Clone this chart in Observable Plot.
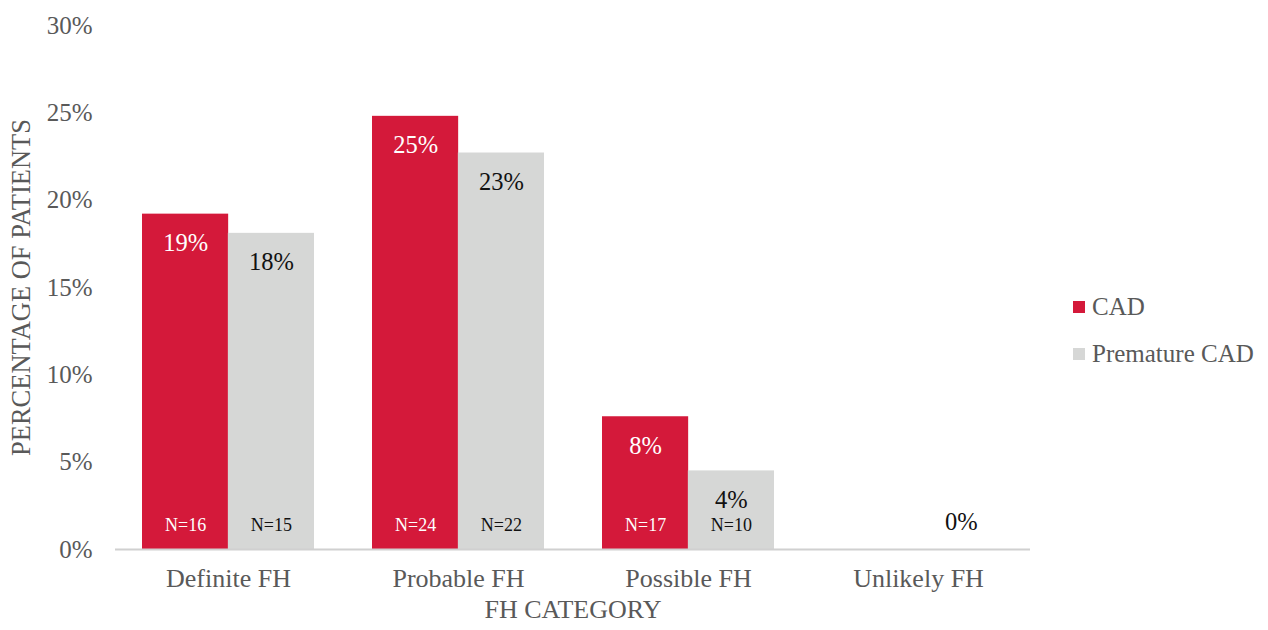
<!DOCTYPE html>
<html><head><meta charset="utf-8">
<script src="https://cdn.jsdelivr.net/npm/d3@7"></script>
<script src="https://cdn.jsdelivr.net/npm/@observablehq/plot@0.6"></script>
<style>
body{margin:0;background:#fff;}
#wrap{position:relative;width:1268px;height:630px;font-family:"Liberation Serif","Times New Roman",serif;}
.legend{position:absolute;left:1073px;color:#595959;font-size:25px;line-height:25px;display:flex;align-items:center;white-space:nowrap;}
.legend .sw{width:12px;height:12px;margin-right:7px;display:inline-block;}
svg g[aria-label="x-axis tick label"] text{font-size:26px;}
svg g[aria-label="y-axis tick label"] text{font-size:25px;}
</style></head><body><div id="wrap"></div>
<script>
const categories = ["Definite FH", "Probable FH", "Possible FH", "Unlikely FH"];
const seriesNames = ["CAD", "Premature CAD"];
const cadValues = [19.2, 24.8, 7.6, 0];
const prematureValues = [18.1, 22.7, 4.5, 0];
const cadLabels = ["19%", "25%", "8%", ""];
const prematureLabels = ["18%", "23%", "4%", "0%"];
const cadN = ["N=16", "N=24", "N=17", ""];
const prematureN = ["N=15", "N=22", "N=10", ""];
const yTicks = [0, 5, 10, 15, 20, 25, 30];
const colors = ["#D4193A", "#D6D7D6"];
const labelColors = ["#FFFFFF", "#111111"];

const W = 1268, H = 630, mL = 115, mR = 238, mT = 25, mB = 81;
const pI = 0.254, pO = 0.115;
const step = (W - mL - mR) / (categories.length - pI + 2 * pO);
const half = step * (1 - pI) / 2;

const cadRows = categories.map((c, i) => ({category: c, value: cadValues[i], label: cadLabels[i], n: cadN[i]}));
const preRows = categories.map((c, i) => ({category: c, value: prematureValues[i], label: prematureLabels[i], n: prematureN[i]}));
const preInside = preRows.filter(d => d.value > 0);
const preZero = preRows.filter(d => d.value === 0);

const font = '"Liberation Serif","Times New Roman",serif';

const chart = Plot.plot({
  width: W, height: H,
  marginLeft: mL, marginRight: mR, marginTop: mT, marginBottom: mB,
  style: {fontFamily: font, fontSize: "24px", color: "#595959", background: "#fff"},
  x: {domain: categories, paddingInner: pI, paddingOuter: pO, tickSize: 0, tickPadding: 19, label: null},
  y: {domain: [0, 30], ticks: yTicks, tickFormat: d => d + "%", tickSize: 0, tickPadding: 23, label: null},
  marks: [
    Plot.barY(cadRows, {x: "category", y: "value", fill: colors[0], insetRight: half}),
    Plot.barY(preRows, {x: "category", y: "value", fill: colors[1], insetLeft: half}),
    Plot.ruleY([0], {stroke: "#D0D0D0", strokeWidth: 2}),
    Plot.text(cadRows.filter(d => d.value > 0), {x: "category", y: "value", text: "label", dx: -half / 2, dy: 29, fill: labelColors[0], fontSize: 24.5, fontFamily: font}),
    Plot.text(preInside, {x: "category", y: "value", text: "label", dx: half / 2, dy: 29, fill: labelColors[1], fontSize: 24.5, fontFamily: font}),
    Plot.text(preZero, {x: "category", y: "value", text: "label", dx: half / 2, dy: -27, fill: labelColors[1], fontSize: 24.5, fontFamily: font}),
    Plot.text(cadRows.filter(d => d.n), {x: "category", y: 0, text: "n", dx: -half / 2, dy: -24, fill: labelColors[0], fontSize: 18, fontFamily: font}),
    Plot.text(preRows.filter(d => d.n), {x: "category", y: 0, text: "n", dx: half / 2, dy: -24, fill: labelColors[1], fontSize: 18, fontFamily: font}),
    Plot.text(["PERCENTAGE OF PATIENTS"], {frameAnchor: "left", text: d => d, textAnchor: "middle", rotate: -90, dx: -94, fill: "#595959", fontSize: 26.5, fontFamily: font}),
    Plot.text(["FH CATEGORY"], {frameAnchor: "bottom", text: d => d, textAnchor: "middle", dy: 68, fill: "#595959", fontSize: 26, fontFamily: font})
  ]
});

const wrap = document.getElementById("wrap");
wrap.appendChild(chart);
seriesNames.forEach((s, i) => {
  const item = document.createElement("div");
  item.className = "legend";
  item.style.top = (294 + i * 47) + "px";
  const sw = document.createElement("span");
  sw.className = "sw";
  sw.style.background = colors[i];
  item.appendChild(sw);
  item.appendChild(document.createTextNode(s));
  wrap.appendChild(item);
});
</script>
</body></html>
